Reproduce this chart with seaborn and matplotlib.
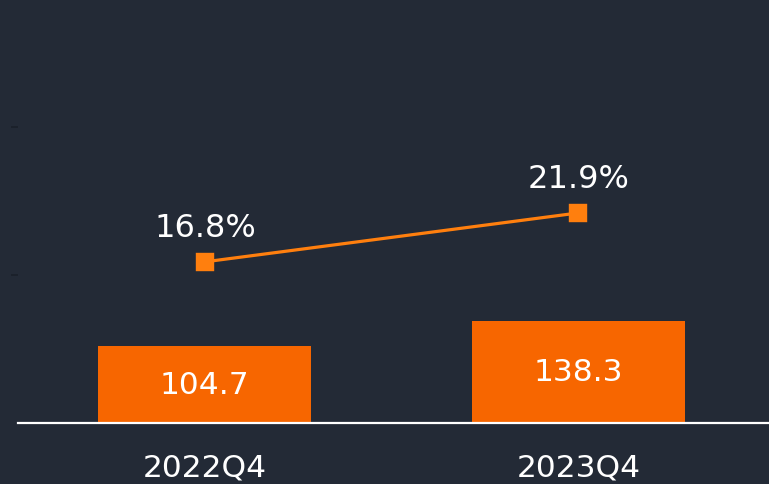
import pandas as pd
import matplotlib
matplotlib.use("Agg")
import matplotlib.pyplot as plt
import seaborn as sns

# ── Palette ──────────────────────────────────────────────────────────────────
BG      = "#232A36"
BAR     = "#F76600"
LINE    = "#FF7F0E"
TEXT    = "#FFFFFF"
TICK    = "#1A2029"

# ── Data ─────────────────────────────────────────────────────────────────────
quarters = ["2022Q4", "2023Q4"]
revenue  = [104.7, 138.3]
margin   = [16.8, 21.9]

df = pd.DataFrame({"Quarter": quarters, "Revenue": revenue, "Margin": margin})

sns.set_theme(style="white")
plt.rcParams["font.family"] = ["DejaVu Sans"]

fig = plt.figure(figsize=(7.69, 4.85), dpi=100, facecolor=BG)
ax = fig.add_axes([18 / 769, 61 / 485, 751 / 769, 424 / 485])
ax.set_facecolor(BG)

sns.barplot(data=df, x="Quarter", y="Revenue", color=BAR, width=0.57,
            saturation=1, ax=ax, zorder=2, edgecolor="none", linewidth=0)
for i, v in enumerate(revenue):
    ax.text(i, v / 2, f"{v:.1f}", ha="center", va="center",
            fontsize=22.5, color=TEXT)

ax.set_xlim(-0.5, 1.51)
ax.set_ylim(0, 573)
ax.set_yticks([200, 400])
ax.set_yticklabels([])
ax.tick_params(axis="y", length=5, width=1.2, color=TICK, left=True)
ax.tick_params(axis="x", length=0, labelsize=22.5, labelcolor=TEXT, pad=21)
ax.set_xlabel(""); ax.set_ylabel("")
for s in ["left", "right", "top"]:
    ax.spines[s].set_visible(False)
ax.spines["bottom"].set_color(TEXT)
ax.spines["bottom"].set_linewidth(1.6)

# ── Margin line on twin axis ─────────────────────────────────────────────────
ax2 = ax.twinx()
sns.pointplot(data=df, x="Quarter", y="Margin", color=LINE, markers="s",
              linestyles="-", ax=ax2, markersize=11, linewidth=2.3, zorder=3)
ax2.set_xlim(-0.5, 1.51)
ax2.set_ylim(0, 44.2)
ax2.set_yticks([])
ax2.set_xlabel(""); ax2.set_ylabel("")
for s in ["left", "right", "top", "bottom"]:
    ax2.spines[s].set_visible(False)
for i, m in enumerate(margin):
    ax2.annotate(f"{m:.1f}%", (i, m), textcoords="offset points",
                 xytext=(0, 25), ha="center", va="center",
                 fontsize=23, color=TEXT)

fig.savefig("out.png", dpi=100, facecolor=BG)
